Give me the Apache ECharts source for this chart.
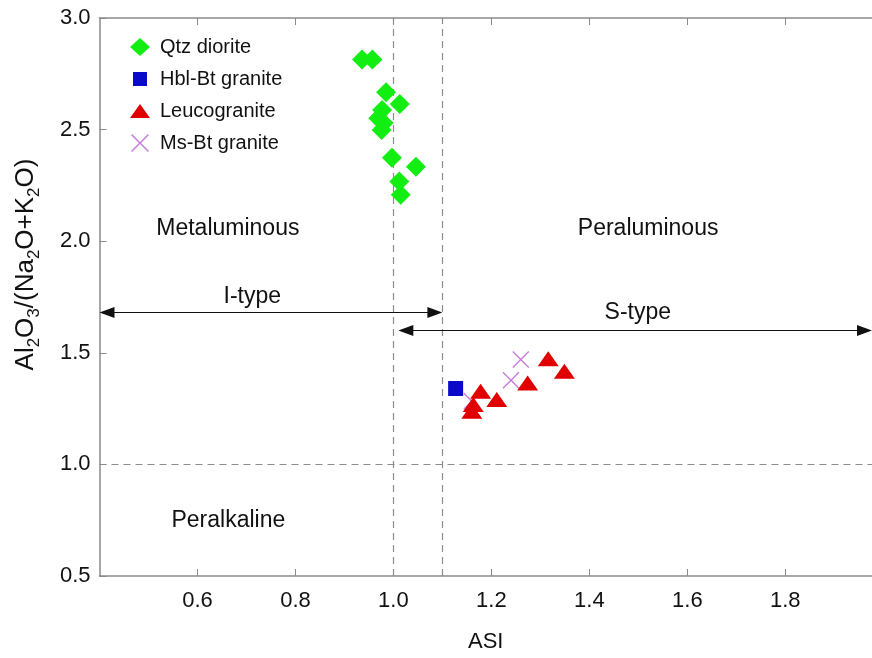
<!DOCTYPE html>
<html>
<head>
<meta charset="utf-8">
<script src="https://cdn.jsdelivr.net/npm/echarts@6/dist/echarts.min.js"></script>
<style>
  html, body { margin: 0; padding: 0; background: #ffffff; }
  #chart { width: 872px; height: 658px; }
</style>
</head>
<body>
<div id="chart"></div>
<script>
// Sample compositions: [ASI, Al2O3/(Na2O+K2O)]
const qtzDiorite = [
  [0.936, 2.814], [0.957, 2.814], [0.985, 2.667], [1.013, 2.615],
  [0.977, 2.588], [0.969, 2.551], [0.980, 2.530], [0.976, 2.498],
  [0.997, 2.374], [1.046, 2.334], [1.012, 2.267], [1.015, 2.208]
];
const hblBtGranite = [[1.127, 1.340]];
const leucogranite = [
  [1.316, 1.473], [1.349, 1.417], [1.274, 1.365], [1.178, 1.328],
  [1.211, 1.291], [1.163, 1.268], [1.160, 1.238]
];
const msBtGranite = [[1.260, 1.470], [1.240, 1.377], [1.160, 1.283]];

// Axis ranges and ticks
const xRange = [0.4, 1.977];
const yRange = [0.5, 3.0];
const yStep = 0.5;
const xTickLabels = [0.6, 0.8, 1.0, 1.2, 1.4, 1.6, 1.8];
const xTickMarks = [0.6, 0.8, 1.0, 1.1, 1.2, 1.4, 1.6, 1.8];

// Field boundaries
const asiBoundaries = [1.0, 1.1];
const ratioBoundary = 1.0;
const iTypeSpan = [0.4, 1.1], iTypeLevel = 1.68;
const sTypeSpan = [1.01, 1.977], sTypeLevel = 1.60;

// Field names
const fieldNames = ['Metaluminous', 'Peraluminous', 'Peralkaline', 'I-type', 'S-type'];
const fieldPositions = [[0.662, 2.055], [1.520, 2.055], [0.663, 0.750], [0.712, 1.751], [1.499, 1.680]];

const seriesNames = ['Qtz diorite', 'Hbl-Bt granite', 'Leucogranite', 'Ms-Bt granite'];

const gridBox = { left: 99.5, right: 0, top: 18, bottom: 81 };
const plotWidth = 872 - gridBox.left - gridBox.right;
const arrowHead = [11, 15];
// half the arrowhead length, in ASI units, so the tip lands on the span end
const headInset = (xRange[1] - xRange[0]) / plotWidth * (arrowHead[1] / 2);

const crossPath = 'path://M0,6L6,0L50,44L94,0L100,6L56,50L100,94L94,100L50,56L6,100L0,94L44,50Z';
// legend glyphs: the leading moves reserve a 20x18 frame so the shape keeps its size inside it
const legendSquare = 'path://M0,0M20,18M3,2L17,2L17,16L3,16Z';
const legendTriangle = 'path://M0,0M20,18M0,16L10,2L20,16Z';

const chart = echarts.init(document.getElementById('chart'), null, { renderer: 'canvas' });

const font = 'Liberation Sans, Arial, sans-serif';
const textColor = '#111111';
const axisGrey = '#8a8a8a';

const option = {
  backgroundColor: '#ffffff',
  animation: false,
  grid: gridBox,
  legend: {
    orient: 'vertical',
    left: 125,
    top: 32,
    itemGap: 12,
    itemWidth: 20,
    itemHeight: 18,
    textStyle: { fontFamily: font, fontSize: 20, color: textColor, padding: [0, 0, 0, 5] },
    data: [
      { name: seriesNames[0], icon: 'diamond' },
      { name: seriesNames[1], icon: legendSquare },
      { name: seriesNames[2], icon: legendTriangle },
      { name: seriesNames[3], icon: crossPath }
    ]
  },
  xAxis: [
    {
      type: 'value',
      min: xRange[0],
      max: xRange[1],
      name: 'ASI',
      nameLocation: 'middle',
      nameGap: 55,
      nameTextStyle: { fontFamily: font, fontSize: 22, color: textColor },
      axisLine: { lineStyle: { color: axisGrey, width: 1.5 } },
      axisTick: { inside: true, length: 7, customValues: xTickMarks, lineStyle: { color: axisGrey } },
      axisLabel: {
        customValues: xTickLabels,
        margin: 14,
        fontFamily: font,
        fontSize: 22,
        color: textColor,
        formatter: v => v.toFixed(1)
      },
      splitLine: { show: false }
    },
    {
      type: 'value',
      position: 'top',
      min: xRange[0],
      max: xRange[1],
      axisLine: { lineStyle: { color: axisGrey, width: 1.5 } },
      axisTick: { inside: true, length: 7, customValues: xTickLabels, lineStyle: { color: axisGrey } },
      axisLabel: { show: false },
      splitLine: { show: false }
    }
  ],
  yAxis: {
    type: 'value',
    min: yRange[0],
    max: yRange[1],
    interval: yStep,
    name: '{n|Al}{s|2}{n|O}{s|3}{n|/(Na}{s|2}{n|O+K}{s|2}{n|O)}',
    nameLocation: 'middle',
    nameGap: 57,
    nameTextStyle: {
      fontFamily: font,
      color: textColor,
      padding: [0, 0, 0, 65],
      rich: {
        n: { fontFamily: font, fontSize: 26, lineHeight: 34, color: textColor },
        s: { fontFamily: font, fontSize: 17, lineHeight: 16, color: textColor, verticalAlign: 'bottom' }
      }
    },
    axisLine: { lineStyle: { color: axisGrey, width: 1.5 } },
    axisTick: { inside: true, length: 7, lineStyle: { color: axisGrey } },
    axisLabel: {
      margin: 9,
      fontFamily: font,
      fontSize: 22,
      color: textColor,
      formatter: v => v.toFixed(1)
    },
    splitLine: { show: false }
  },
  series: [
    {
      name: 'guides',
      type: 'scatter',
      data: [],
      silent: true,
      markLine: {
        silent: true,
        animation: false,
        symbol: 'none',
        label: { show: false },
        lineStyle: { color: '#8c8c8c', width: 1.2, type: [7, 5] },
        data: [
          { xAxis: asiBoundaries[0] },
          { xAxis: asiBoundaries[1] },
          { yAxis: ratioBoundary }
        ]
      }
    },
    {
      name: 'arrows',
      type: 'scatter',
      data: [],
      silent: true,
      markLine: {
        silent: true,
        animation: false,
        symbol: ['triangle', 'triangle'],
        symbolSize: arrowHead,
        label: { show: false },
        lineStyle: { color: '#111111', width: 1.2, type: 'solid' },
        itemStyle: { color: '#111111' },
        data: [
          [{ coord: [iTypeSpan[0] + headInset, iTypeLevel] }, { coord: [iTypeSpan[1] - headInset, iTypeLevel] }],
          [{ coord: [sTypeSpan[0] + headInset, sTypeLevel] }, { coord: [sTypeSpan[1] - headInset, sTypeLevel] }]
        ]
      }
    },
    {
      name: 'fields',
      type: 'scatter',
      silent: true,
      symbolSize: 0,
      itemStyle: { opacity: 1 },
      data: fieldNames.map((n, i) => ({ name: n, value: fieldPositions[i] })),
      label: {
        show: true,
        position: 'inside',
        formatter: p => p.name,
        fontFamily: font,
        fontSize: 23,
        color: textColor,
        opacity: 1
      }
    },
    {
      name: seriesNames[3],
      type: 'scatter',
      symbol: crossPath,
      symbolSize: 17,
      itemStyle: { color: '#c77fdb', opacity: 1 },
      data: msBtGranite,
      z: 3
    },
    {
      name: seriesNames[1],
      type: 'scatter',
      symbol: 'rect',
      symbolSize: 15,
      itemStyle: { color: '#0a0ac8', opacity: 1 },
      data: hblBtGranite,
      z: 4
    },
    {
      name: seriesNames[2],
      type: 'scatter',
      symbol: 'triangle',
      symbolSize: [21, 15],
      itemStyle: { color: '#e00000', opacity: 1 },
      data: leucogranite,
      z: 5
    },
    {
      name: seriesNames[0],
      type: 'scatter',
      symbol: 'diamond',
      symbolSize: [20, 20],
      itemStyle: { color: '#12ee12', opacity: 1 },
      data: qtzDiorite,
      z: 5
    }
  ]
};

chart.setOption(option);
</script>
</body>
</html>
